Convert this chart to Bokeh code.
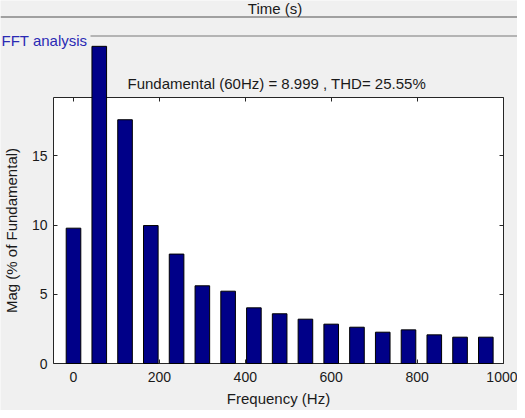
from bokeh.plotting import figure
from bokeh.models import LinearAxis, FixedTicker, Label, Span, Range1d
from bokeh.embed import file_html
from bokeh.resources import INLINE
from bokeh.core.properties import value

# ---- data ----
freqs = [0, 60, 120, 180, 240, 300, 360, 420, 480, 540, 600, 660, 720, 780, 840, 900, 960]
mags = [9.77, 22.9, 17.6, 9.96, 7.9, 5.61, 5.22, 4.02, 3.59, 3.2, 2.84, 2.62, 2.26, 2.43, 2.07, 1.9, 1.9]
x_ticks = [0, 200, 400, 600, 800, 1000]
y_ticks = [0, 5, 10, 15]
x_lim = (-46.6, 1000)
y_lim = (0, 19.2)
title_text = "Fundamental (60Hz) = 8.999 , THD= 25.55%"
panel_title = "FFT analysis"
top_text = "Time (s)"
x_label = "Frequency (Hz)"
y_label = "Mag (% of Fundamental)"

FONT = "Liberation Sans"
W, H = 517, 410
# page-pixel -> data helpers (frame covers whole canvas)
X0_PX, XSCALE = 81.0, 0.4295   # page x of f=0, px per Hz
Y0_PX, YSCALE = 371.0, 13.85   # page y of v=0, px per unit


def px(x):
    return (x - X0_PX) / XSCALE


def py(y):
    return (Y0_PX - y) / YSCALE


p = figure(width=W, height=H,
           x_range=Range1d(px(8), px(8 + W)),
           y_range=Range1d(py(8 + H), py(8)),
           output_backend="svg", toolbar_location=None,
           x_axis_type=None, y_axis_type=None,
           min_border=0, min_border_left=0, min_border_right=0,
           min_border_top=0, min_border_bottom=0,
           background_fill_color="#f0f0f0", border_fill_color="#f0f0f0",
           outline_line_color=None)

# white axes box
p.quad(left=[x_lim[0]], right=[x_lim[1]], bottom=[y_lim[0]], top=[y_lim[1]],
       fill_color="white", line_color=None)

# bars
bars = p.vbar(x=freqs, top=mags, bottom=0, width=34,
              fill_color="#000088", line_color="black", line_width=1)
bars.level = "overlay"

AX_COLOR = "#262626"
TXT_COLOR = "#1a1a1a"


def style_axis(ax, labels=True):
    ax.axis_line_color = AX_COLOR
    ax.major_tick_line_color = AX_COLOR
    ax.major_tick_in = 4
    ax.major_tick_out = 0
    ax.minor_tick_line_color = None
    ax.major_label_text_font = FONT
    ax.major_label_text_font_size = "14px"
    ax.major_label_text_color = TXT_COLOR if labels else None
    ax.axis_label_text_font = FONT
    ax.axis_label_text_font_size = "15px"
    ax.axis_label_text_font_style = "normal"
    ax.axis_label_text_color = TXT_COLOR


left = LinearAxis(fixed_location=x_lim[0], bounds=y_lim,
                  ticker=FixedTicker(ticks=y_ticks), axis_label=y_label)
style_axis(left)
left.major_label_standoff = 6
left.axis_label_standoff = 9
p.add_layout(left, "left")

right = LinearAxis(fixed_location=x_lim[1], bounds=y_lim,
                   ticker=FixedTicker(ticks=y_ticks))
style_axis(right, labels=False)
p.add_layout(right, "right")

bottom = LinearAxis(fixed_location=y_lim[0], bounds=x_lim,
                    ticker=FixedTicker(ticks=x_ticks), axis_label=x_label)
style_axis(bottom)
bottom.major_label_standoff = 8
bottom.axis_label_standoff = 5
p.add_layout(bottom, "below")

top = LinearAxis(fixed_location=y_lim[1], bounds=x_lim,
                 ticker=FixedTicker(ticks=x_ticks))
style_axis(top, labels=False)
p.add_layout(top, "above")

# window decorations
p.add_layout(Span(location=py(24.5), dimension="width",
                  line_color="#a0a0a0", line_width=2))
p.line([px(98), px(8 + W)], [py(43.5), py(43.5)], line_color="#a0a0a0", line_width=1.5)

p.add_layout(Label(x=px(282.5), y=py(16), text=top_text, text_align="center",
                   text_baseline="alphabetic", text_font=FONT,
                   text_font_size="15px", text_color=TXT_COLOR))
p.add_layout(Label(x=px(9), y=py(48), text=panel_title, text_align="left",
                   text_baseline="alphabetic", text_font=FONT,
                   text_font_size="15px", text_color="#2a2ab4"))
p.add_layout(Label(x=px(135), y=py(91), text=title_text, text_align="left",
                   text_baseline="alphabetic", text_font=FONT,
                   text_font_size="15px", text_color=TXT_COLOR))

open("out.html", "w").write(file_html(p, INLINE))
